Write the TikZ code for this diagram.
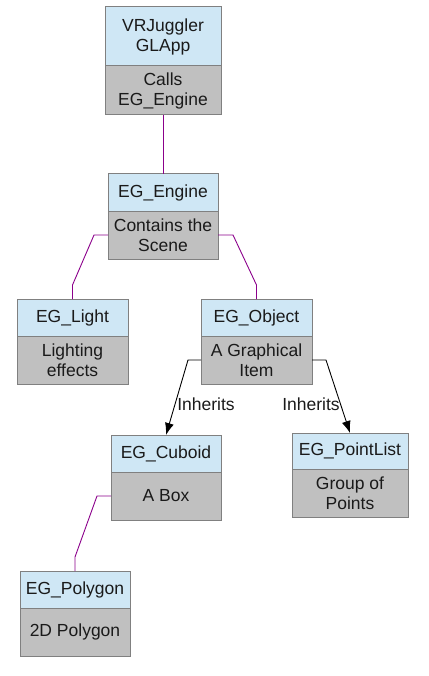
\documentclass[tikz,border=0pt]{standalone}
\usepackage{fontspec}
\setmainfont{Liberation Sans}
\usetikzlibrary{arrows.meta,positioning,calc}
\definecolor{ink}{HTML}{1A1A1A}
\definecolor{edg}{HTML}{808080}
\definecolor{hdr}{HTML}{CFE7F5}
\definecolor{bdy}{HTML}{C0C0C0}
\definecolor{lnk}{HTML}{8B008B}
\tikzset{
  hd/.style  ={draw=edg,line width=1pt,fill=hdr,align=center,font=\fontsize{17.5}{20}\selectfont,text=ink,inner sep=0pt,outer sep=0pt,minimum width=110pt,minimum height=37pt},
  bd/.style  ={hd,fill=bdy,minimum height=48pt},
  ln/.style  ={draw=lnk,line width=.9pt},
  a/.style   ={-{Latex[length=12pt,width=9pt]},line width=.9pt,black},
  albl/.style={font=\fontsize{17.5}{20}\selectfont,text=ink,inner sep=0pt},
}
\begin{document}
\begin{tikzpicture}[x=1pt,y=1pt]
\useasboundingbox (0,0) rectangle (428,-676);
% ===== application and engine =====
\node[hd,minimum width=116pt,minimum height=59pt] (vrj) at (163,-36.5) {VRJuggler\\GLApp};
\node[bd,minimum width=116pt,minimum height=49pt,below=0pt of vrj] (vrjb) {Calls\\EG\_Engine};
\node[hd] (eng) at (163,-192.5) {EG\_Engine};
\node[bd,below=0pt of eng] (engb) {Contains the\\Scene};
\draw[ln] (vrjb.south) -- (eng.north);

% ===== scene members =====
\node[hd,minimum width=111pt] (lgt) at (72.5,-317.5) {EG\_Light};
\node[bd,minimum width=111pt,below=0pt of lgt] (lgtb) {Lighting\\effects};
\node[hd,minimum width=111pt] (obj) at (256.5,-317.5) {EG\_Object};
\node[bd,minimum width=111pt,below=0pt of obj] (objb) {A Graphical\\Item};
\draw[ln] (engb.west) -- ++(-14,0) -- ($(lgt.north)+(0,14)$) -- (lgt.north);
\draw[ln] (engb.east) -- ++(15,0) -- ($(obj.north)+(0,14)$) -- (obj.north);

% ===== derived objects =====
\node[hd] (cub) at (166,-453.5) {EG\_Cuboid};
\node[bd,below=0pt of cub] (cubb) {A Box};
\node[hd,minimum width=116pt,minimum height=36pt] (pts) at (350,-451) {EG\_PointList};
\node[bd,minimum width=116pt,below=0pt of pts] (ptsb) {Group of\\Points};
\draw[a] (objb.west) -- ++(-13,0) -- (cub.north);
\draw[a] (objb.east) -- ++(14,0) -- (pts.north);
\node[albl] (inh1) at (206,-404) {Inherits};
\node[albl] (inh2) at (311,-404) {Inherits};

% ===== polygon =====
\node[hd] (pol) at (75,-589.5) {EG\_Polygon};
\node[bd,below=0pt of pol] (polb) {2D Polygon};
\draw[ln] (cubb.west) -- ++(-14,0) -- ($(pol.north)+(0,14)$) -- (pol.north);
\end{tikzpicture}
\end{document}
